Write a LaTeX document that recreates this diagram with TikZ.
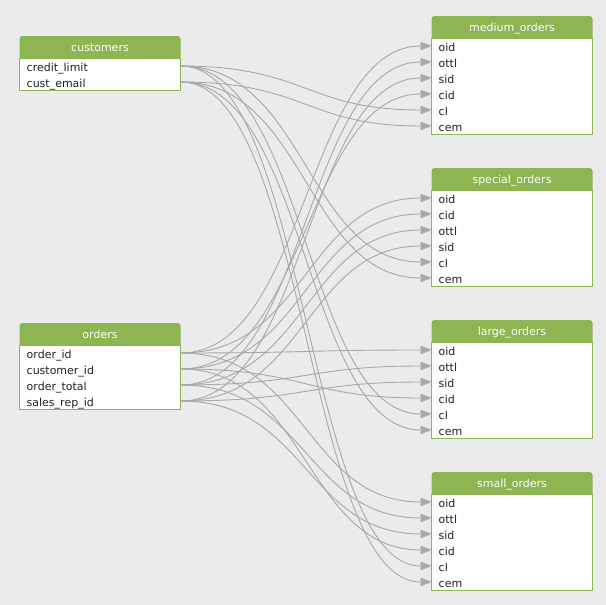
\documentclass[tikz,border=0pt]{standalone}
\usepackage{fontspec}
\setmainfont{DejaVu Sans}
\usetikzlibrary{arrows.meta}
\definecolor{bgc}{HTML}{EBEBEB}
\definecolor{tg}{HTML}{8DB552}
\definecolor{lnc}{HTML}{A8A8A8}
\definecolor{txc}{HTML}{222222}
\tikzset{
  hdr/.style={text=white, font=\fontsize{11}{12}\selectfont, inner sep=0pt,
    text height=9.4pt, text depth=0pt},
  rowtext/.style={anchor=west, text width=147pt, inner xsep=7pt, inner ysep=0pt,
    minimum height=16pt, align=left, text=txc, font=\fontsize{11}{12}\selectfont,
    text height=11pt, text depth=0pt},
  conn/.style={draw=lnc, line width=0.9pt, -{Triangle[length=11pt,width=8.5pt,fill=lnc]}},
  hdrbox/.style={fill=tg, rounded corners=3pt},
  bodybox/.style={draw=tg, fill=white, line width=0.9pt},
}
\begin{document}
\begin{tikzpicture}[x=1pt,y=-1pt]
\fill[bgc] (0,0) rectangle (606,605);
\useasboundingbox (0,0) rectangle (606,605);
% source tables
\path[hdrbox] (19.5,36) rectangle ++(161,26);
\path[bodybox] (19.5,58) rectangle ++(161,32);
\node[hdr] (cust-h) at (100,47) {customers};
\node[rowtext] (cust-cl) at (19.5,66) {credit\_limit};
\node[rowtext] (cust-cem) at (19.5,82) {cust\_email};

\path[hdrbox] (19.5,323) rectangle ++(161,26);
\path[bodybox] (19.5,345) rectangle ++(161,64);
\node[hdr] (ord-h) at (100,334) {orders};
\node[rowtext] (ord-oid) at (19.5,353) {order\_id};
\node[rowtext] (ord-cid) at (19.5,369) {customer\_id};
\node[rowtext] (ord-ottl) at (19.5,385) {order\_total};
\node[rowtext] (ord-sid) at (19.5,401) {sales\_rep\_id};

% target tables
\foreach \nm/\title/\top in {med/medium\_orders/16, lrg/large\_orders/320, sml/small\_orders/472}{
  \path[hdrbox] (431.5,\top) rectangle ++(161,26);
  \path[bodybox] (431.5,\top+22) rectangle ++(161,96);
  \node[hdr] (\nm-h) at (512,\top+11) {\title};
  \foreach \k [count=\i from 0] in {oid,ottl,sid,cid,cl,cem}
    \node[rowtext] (\nm-\k) at (431.5,\top+30+16*\i) {\k};
}
\path[hdrbox] (431.5,168) rectangle ++(161,26);
\path[bodybox] (431.5,190) rectangle ++(161,96);
\node[hdr] (spc-h) at (512,179) {special\_orders};
\foreach \k [count=\i from 0] in {oid,cid,ottl,sid,cl,cem}
  \node[rowtext] (spc-\k) at (431.5,198+16*\i) {\k};

% connectors
\foreach \s/\d in {cust-cl/cl, cust-cem/cem, ord-oid/oid, ord-cid/cid, ord-ottl/ottl, ord-sid/sid}{
  \foreach \tb in {med,spc,lrg,sml}
    \draw[conn] (\s.east) .. controls +(125.5,0) and +(-125.5,0) .. (\tb-\d.west);
}
\end{tikzpicture}
\end{document}
